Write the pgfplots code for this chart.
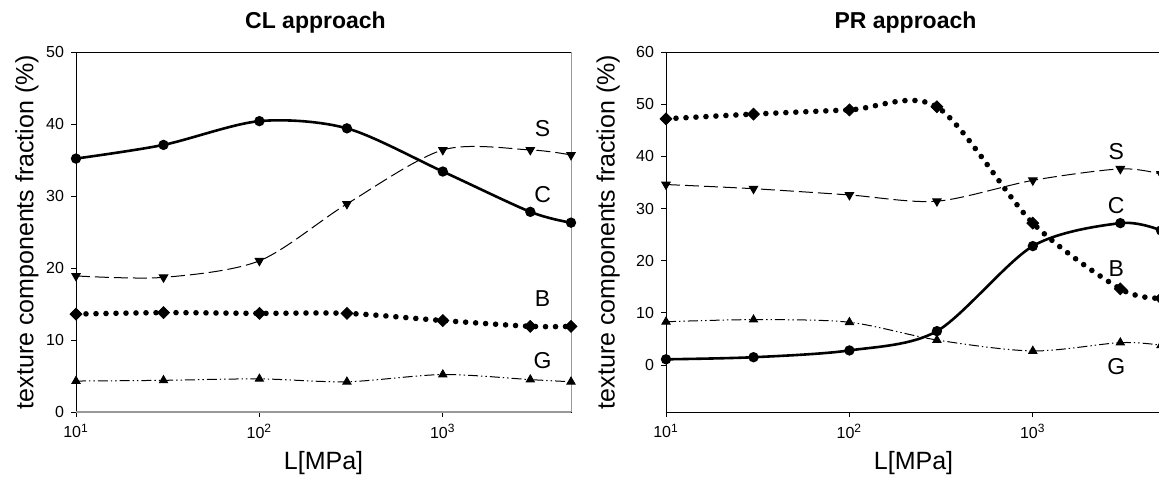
\documentclass[border=0pt]{standalone}
\usepackage{fontspec}
\setmainfont{Liberation Sans}
\usepackage{pgfplots}
\pgfplotsset{compat=1.18}

\pgfplotstableread{
L     C     S     B     G
10    35.2  18.9  13.6  4.3
30    37.1  18.7  13.8  4.4
100   40.4  21.0  13.7  4.6
300   39.4  28.9  13.7  4.2
1000  33.4  36.4  12.7  5.2
3000  27.8  36.4  11.9  4.5
5000  26.3  35.7  11.9  4.2
}\cldata

\pgfplotstableread{
L     C     S     B     G
10    1.1   34.6  47.2  8.3
30    1.5   33.8  48.1  8.7
100   2.8   32.6  48.9  8.2
300   6.5   31.4  49.5  4.8
1000  22.8  35.4  27.2  2.7
3000  27.2  37.6  14.6  4.3
5000  25.8  36.6  12.8  3.8
}\prdata

\pgfplotsset{
  every axis/.append style={
    scale only axis, width=247.5pt, height=180pt,
    xmin=10, xmax=5000,
    xtick={10,100,1000},
    xticklabels={10\textsuperscript{1},10\textsuperscript{2},10\textsuperscript{3}},
    xminorticks=false,
    tick align=outside, xtick pos=bottom, ytick pos=left,
    major tick length=2.5pt,
    tick style={black, line width=0.5pt},
    axis line style={line width=0.5pt},
    ticklabel style={font=\fontsize{8}{9.5}\selectfont},
    /pgf/number format/assume math mode=true,
    clip=false,
    xlabel={L[MPa]},
    ylabel={texture components fraction (\%)},
    label style={font=\fontsize{12.5}{14}\selectfont},
    xlabel style={at={(axis description cs:0.5,0)}, anchor=center, yshift=-25.5pt},
    title style={font=\bfseries\fontsize{11.5}{13}\selectfont, xshift=-4pt},
  },
  cC/.style={black, line width=1.3pt, smooth, mark=*, mark size=1.9pt, mark options={solid}},
  cS/.style={black, line width=0.5pt, dash pattern=on 7pt off 2.5pt, smooth,
    mark=triangle*, mark size=2.4pt, mark options={solid, rotate=180}},
  cB/.style={black, line width=2.8pt, line cap=round, dash pattern=on 0pt off 5pt, smooth,
    mark=square*, mark size=2.1pt, mark options={solid, rotate=45, line width=0.4pt}},
  cG/.style={black, line width=0.5pt,
    dash pattern=on 5pt off 1.5pt on 0.7pt off 1.5pt on 0.7pt off 1.5pt, smooth,
    mark=triangle*, mark size=2.3pt, mark options={solid}},
}
\tikzset{lbl/.style={font=\fontsize{11.5}{13}\selectfont}}

\begin{document}
\begin{tikzpicture}
\begin{semilogxaxis}[at={(0pt,0pt)},
  ymin=0, ymax=50, ytick={0,10,...,50},
  title={CL approach},
  ylabel style={at={(axis description cs:-0.099,0.5)}, anchor=center},
]
% grey bottom and right frame lines, as in the original
\draw[gray!80, line width=0.9pt] (rel axis cs:0,0) -- (rel axis cs:1,0);
\draw[gray!80, line width=0.5pt] (rel axis cs:1,0) -- (rel axis cs:1,1);
\addplot[cS] table[x=L, y=S] {\cldata};
\addplot[cG] table[x=L, y=G] {\cldata};
\addplot[cB] table[x=L, y=B] {\cldata};
\addplot[cC] table[x=L, y=C] {\cldata};
\node[lbl] at (axis cs:3500,39.3) {S};
\node[lbl] at (axis cs:3500,30.2) {C};
\node[lbl] at (axis cs:3500,15.8) {B};
\node[lbl] at (axis cs:3500,7.1) {G};
\end{semilogxaxis}

\begin{semilogxaxis}[at={(295pt,0pt)},
  ymin=-9, ymax=60, ytick={0,10,...,60},
  title={PR approach},
  ylabel style={at={(axis description cs:-0.117,0.5)}, anchor=center},
]
\addplot[cS] table[x=L, y=S] {\prdata};
\addplot[cG] table[x=L, y=G] {\prdata};
\addplot[cB] table[x=L, y=B] {\prdata};
\addplot[cC] table[x=L, y=C] {\prdata};
\node[lbl] at (axis cs:2850,41.0) {S};
\node[lbl] at (axis cs:2850,30.6) {C};
\node[lbl] at (axis cs:2850,18.5) {B};
\node[lbl] at (axis cs:2850,-0.3) {G};
\end{semilogxaxis}

\pgfresetboundingbox
\path[use as bounding box] (-38pt,-35pt) rectangle (541.5pt,206pt);
\end{tikzpicture}
\end{document}
